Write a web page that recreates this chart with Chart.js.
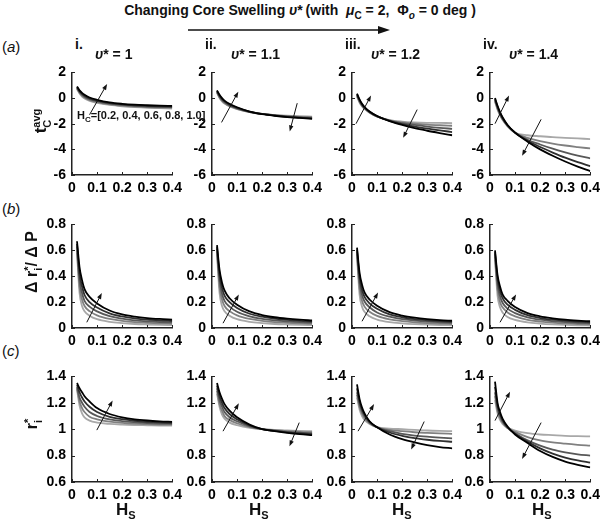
<!DOCTYPE html>
<html>
<head>
<meta charset="utf-8">
<script src="https://cdn.jsdelivr.net/npm/chart.js@4.4.0/dist/chart.umd.min.js"></script>
<style>
body { margin:0; width:600px; height:528px; background:#fff; position:relative; overflow:hidden; font-family:"Liberation Sans", Arial, sans-serif; color:#111; }
canvas { position:absolute; }
.lbl { position:absolute; font-weight:bold; white-space:nowrap; z-index:2; }
.rot { position:absolute; font-weight:bold; white-space:nowrap; transform:translate(-50%,-50%) rotate(-90deg); z-index:2; }
.stk { display:inline-block; vertical-align:middle; line-height:0.95; font-size:11px; text-align:left; }
.stk span { display:block; }
.row { position:absolute; font-size:15px; z-index:2; }
</style>
</head>
<body>
<div class="lbl" style="left:0;width:600px;top:2px;text-align:center;font-size:14px;">Changing Core Swelling <i>υ</i>*&thinsp;(with&nbsp; <i>μ</i><sub style="font-size:10px">C</sub> = 2,&nbsp; Φ<sub style="font-size:10px"><i>o</i></sub> = 0 deg )</div>
<svg style="position:absolute;left:188px;top:24px" width="204" height="12">
  <line x1="0" y1="6" x2="192" y2="6" stroke="#111" stroke-width="1.5"/>
  <polygon points="202,6 190,2 190,10" fill="#111"/>
</svg>

<div class="row" style="left:2px;top:38px;">(<i>a</i>)</div>
<div class="row" style="left:2px;top:200px;">(<i>b</i>)</div>
<div class="row" style="left:2px;top:342px;">(<i>c</i>)</div>

<div class="lbl" style="left:75px;top:36px;font-size:14px;">i.</div>
<div class="lbl" style="left:95px;top:46px;font-size:14px;"><i>υ</i>* = 1</div>
<div class="lbl" style="left:205px;top:36px;font-size:14px;">ii.</div>
<div class="lbl" style="left:231px;top:46px;font-size:14px;"><i>υ</i>* = 1.1</div>
<div class="lbl" style="left:345px;top:36px;font-size:14px;">iii.</div>
<div class="lbl" style="left:371px;top:46px;font-size:14px;"><i>υ</i>* = 1.2</div>
<div class="lbl" style="left:483px;top:36px;font-size:14px;">iv.</div>
<div class="lbl" style="left:509px;top:46px;font-size:14px;"><i>υ</i>* = 1.4</div>

<div class="lbl" style="left:77px;top:109px;font-size:11px;">H<sub style="font-size:8px">C</sub>=[0.2, 0.4, 0.6, 0.8, 1.0]</div>

<div class="rot" style="left:41px;top:121px;font-size:17px;">t<span class="stk"><span>avg</span><span>C</span></span></div>
<div class="rot" style="left:33px;top:262px;font-size:16px;">Δ r<span class="stk"><span>*</span><span>i</span></span>/ Δ P</div>
<div class="rot" style="left:33px;top:424px;font-size:16px;">r<span class="stk"><span>*</span><span>i</span></span></div>

<div class="lbl" style="left:116px;top:500px;font-size:17px;">H<sub style="font-size:11px">S</sub></div>
<div class="lbl" style="left:249px;top:500px;font-size:17px;">H<sub style="font-size:11px">S</sub></div>
<div class="lbl" style="left:392px;top:500px;font-size:17px;">H<sub style="font-size:11px">S</sub></div>
<div class="lbl" style="left:532px;top:500px;font-size:17px;">H<sub style="font-size:11px">S</sub></div>

<script>
// shell thickness H_S samples
const hs = [0.02, 0.03, 0.04, 0.05, 0.07, 0.1, 0.15, 0.2, 0.25, 0.3, 0.35, 0.4];
const hcValues = ['0.2', '0.4', '0.6', '0.8', '1.0'];
const lineColors = ['#a8a8a8', '#808080', '#585858', '#303030', '#000000'];

// row (a): t_C^avg
const tC_i = [
    [0.70, 0.35, 0.12, -0.03, -0.22, -0.38, -0.54, -0.64, -0.71, -0.76, -0.79, -0.82],
    [0.75, 0.42, 0.19, 0.04, -0.16, -0.32, -0.49, -0.59, -0.66, -0.71, -0.74, -0.76],
    [0.80, 0.48, 0.26, 0.11, -0.09, -0.26, -0.44, -0.54, -0.61, -0.66, -0.69, -0.71],
    [0.85, 0.54, 0.33, 0.18, -0.03, -0.20, -0.39, -0.49, -0.56, -0.61, -0.64, -0.66],
    [0.90, 0.60, 0.40, 0.25, 0.04, -0.14, -0.34, -0.45, -0.52, -0.56, -0.59, -0.61]
];
const tC_ii = [
    [0.40, 0.00, -0.26, -0.43, -0.66, -0.87, -1.10, -1.24, -1.32, -1.38, -1.42, -1.45],
    [0.45, 0.06, -0.20, -0.38, -0.62, -0.84, -1.09, -1.24, -1.34, -1.41, -1.46, -1.49],
    [0.50, 0.12, -0.14, -0.32, -0.57, -0.80, -1.07, -1.24, -1.35, -1.44, -1.50, -1.54],
    [0.55, 0.19, -0.07, -0.26, -0.51, -0.76, -1.06, -1.24, -1.37, -1.46, -1.53, -1.58],
    [0.60, 0.25, 0.00, -0.20, -0.45, -0.72, -1.05, -1.25, -1.38, -1.48, -1.55, -1.62]
];
const tC_iii = [
    [0.10, -0.35, -0.65, -0.85, -1.15, -1.45, -1.72, -1.84, -1.90, -1.93, -1.94, -1.95],
    [0.16, -0.29, -0.60, -0.81, -1.12, -1.44, -1.74, -1.90, -2.00, -2.07, -2.12, -2.16],
    [0.22, -0.23, -0.55, -0.77, -1.10, -1.43, -1.76, -1.96, -2.10, -2.22, -2.32, -2.40],
    [0.29, -0.16, -0.50, -0.73, -1.07, -1.41, -1.78, -2.03, -2.22, -2.38, -2.52, -2.65],
    [0.35, -0.10, -0.45, -0.70, -1.05, -1.40, -1.80, -2.10, -2.35, -2.55, -2.73, -2.90]
];
const tC_iv = [
    [-0.30, -0.90, -1.35, -1.70, -2.20, -2.70, -2.90, -2.98, -3.05, -3.10, -3.15, -3.20],
    [-0.22, -0.82, -1.29, -1.65, -2.17, -2.70, -3.10, -3.35, -3.55, -3.70, -3.82, -3.93],
    [-0.15, -0.75, -1.23, -1.60, -2.15, -2.70, -3.25, -3.62, -3.95, -4.23, -4.48, -4.70],
    [-0.07, -0.67, -1.16, -1.55, -2.12, -2.70, -3.33, -3.82, -4.25, -4.65, -5.00, -5.30],
    [0.00, -0.60, -1.10, -1.50, -2.10, -2.70, -3.40, -4.00, -4.50, -4.95, -5.35, -5.70]
];

// row (b): delta r_i* / delta P
const dr_i = [
    [0.58, 0.27, 0.17, 0.13, 0.095, 0.068, 0.048, 0.038, 0.031, 0.027, 0.024, 0.022],
    [0.60, 0.32, 0.22, 0.17, 0.13, 0.098, 0.070, 0.055, 0.045, 0.039, 0.035, 0.033],
    [0.63, 0.37, 0.27, 0.21, 0.165, 0.128, 0.091, 0.072, 0.059, 0.051, 0.046, 0.043],
    [0.65, 0.42, 0.32, 0.255, 0.20, 0.158, 0.113, 0.089, 0.074, 0.064, 0.058, 0.054],
    [0.67, 0.47, 0.37, 0.30, 0.24, 0.19, 0.135, 0.105, 0.088, 0.077, 0.070, 0.065]
];
const dr_ii = [
    [0.57, 0.27, 0.17, 0.13, 0.095, 0.068, 0.048, 0.038, 0.031, 0.027, 0.024, 0.022],
    [0.59, 0.32, 0.22, 0.17, 0.13, 0.098, 0.070, 0.055, 0.045, 0.039, 0.035, 0.032],
    [0.61, 0.37, 0.265, 0.21, 0.165, 0.125, 0.090, 0.071, 0.059, 0.051, 0.045, 0.041],
    [0.625, 0.41, 0.31, 0.25, 0.20, 0.155, 0.110, 0.087, 0.072, 0.062, 0.055, 0.050],
    [0.64, 0.45, 0.35, 0.29, 0.23, 0.18, 0.128, 0.100, 0.083, 0.072, 0.064, 0.058]
];
const dr_iii = [
    [0.55, 0.26, 0.165, 0.125, 0.09, 0.065, 0.045, 0.036, 0.030, 0.026, 0.023, 0.021],
    [0.57, 0.31, 0.21, 0.165, 0.125, 0.094, 0.067, 0.053, 0.044, 0.038, 0.034, 0.031],
    [0.59, 0.355, 0.255, 0.205, 0.16, 0.12, 0.087, 0.068, 0.057, 0.049, 0.044, 0.040],
    [0.605, 0.395, 0.295, 0.24, 0.19, 0.148, 0.105, 0.083, 0.069, 0.060, 0.053, 0.048],
    [0.62, 0.43, 0.335, 0.275, 0.22, 0.172, 0.122, 0.096, 0.080, 0.069, 0.061, 0.056]
];
const dr_iv = [
    [0.53, 0.25, 0.16, 0.12, 0.085, 0.062, 0.043, 0.034, 0.028, 0.024, 0.021, 0.019],
    [0.55, 0.30, 0.20, 0.16, 0.12, 0.09, 0.063, 0.050, 0.041, 0.035, 0.031, 0.028],
    [0.57, 0.34, 0.245, 0.195, 0.15, 0.115, 0.082, 0.064, 0.053, 0.045, 0.040, 0.036],
    [0.585, 0.38, 0.285, 0.23, 0.18, 0.14, 0.099, 0.077, 0.064, 0.055, 0.049, 0.044],
    [0.60, 0.41, 0.32, 0.26, 0.21, 0.162, 0.115, 0.090, 0.075, 0.064, 0.057, 0.052]
];

// row (c): r_i*
const ri_i = [
    [1.30, 1.18, 1.12, 1.09, 1.065, 1.05, 1.04, 1.035, 1.032, 1.03, 1.028, 1.027],
    [1.31, 1.21, 1.16, 1.13, 1.095, 1.075, 1.057, 1.048, 1.042, 1.038, 1.035, 1.034],
    [1.32, 1.24, 1.20, 1.17, 1.13, 1.10, 1.074, 1.061, 1.053, 1.047, 1.043, 1.041],
    [1.335, 1.28, 1.24, 1.21, 1.17, 1.13, 1.094, 1.076, 1.064, 1.056, 1.051, 1.048],
    [1.35, 1.31, 1.28, 1.25, 1.21, 1.16, 1.115, 1.09, 1.075, 1.066, 1.06, 1.056]
];
const ri_ii = [
    [1.27, 1.17, 1.11, 1.08, 1.05, 1.03, 1.01, 1.00, 0.995, 0.99, 0.987, 0.985],
    [1.29, 1.19, 1.14, 1.10, 1.07, 1.045, 1.015, 1.00, 0.992, 0.985, 0.98, 0.977],
    [1.31, 1.22, 1.17, 1.13, 1.09, 1.06, 1.022, 1.00, 0.989, 0.98, 0.973, 0.969],
    [1.33, 1.25, 1.20, 1.16, 1.115, 1.075, 1.028, 1.00, 0.987, 0.976, 0.968, 0.962],
    [1.35, 1.28, 1.23, 1.19, 1.14, 1.09, 1.035, 1.00, 0.985, 0.972, 0.962, 0.955]
];
const ri_iii = [
    [1.24, 1.15, 1.10, 1.07, 1.04, 1.015, 1.005, 1.0, 0.995, 0.99, 0.987, 0.985],
    [1.26, 1.17, 1.12, 1.085, 1.045, 1.015, 0.995, 0.985, 0.977, 0.972, 0.968, 0.965],
    [1.28, 1.19, 1.135, 1.10, 1.05, 1.015, 0.985, 0.965, 0.952, 0.943, 0.936, 0.93],
    [1.31, 1.21, 1.15, 1.11, 1.055, 1.015, 0.975, 0.95, 0.932, 0.92, 0.911, 0.905],
    [1.34, 1.23, 1.165, 1.12, 1.06, 1.015, 0.96, 0.925, 0.90, 0.88, 0.865, 0.855]
];
const ri_iv = [
    [1.22, 1.12, 1.07, 1.04, 1.01, 0.99, 0.97, 0.96, 0.955, 0.95, 0.947, 0.945],
    [1.25, 1.14, 1.085, 1.05, 1.01, 0.98, 0.94, 0.915, 0.90, 0.89, 0.882, 0.876],
    [1.28, 1.16, 1.10, 1.06, 1.01, 0.97, 0.915, 0.875, 0.845, 0.825, 0.81, 0.80],
    [1.32, 1.18, 1.115, 1.07, 1.015, 0.965, 0.905, 0.855, 0.815, 0.785, 0.763, 0.747],
    [1.36, 1.20, 1.13, 1.08, 1.02, 0.96, 0.895, 0.835, 0.79, 0.755, 0.73, 0.71]
];

const rowAxes = [
    { min: -6, max: 2, step: 2 },
    { min: 0, max: 0.8, step: 0.2 },
    { min: 0.6, max: 1.4, step: 0.2 }
];

// trend arrows [x1, y1, x2, y2] in data units, head at the second point
const panels = [
    { row: 0, col: 0, data: tC_i, arrows: [[0.07, -1.3, 0.14, 1.1]] },
    { row: 0, col: 1, data: tC_ii, arrows: [[0.038, -1.9, 0.105, 0.5], [0.34, -0.4, 0.31, -2.6]] },
    { row: 0, col: 2, data: tC_iii, arrows: [[0.016, -2.0, 0.076, 0.2], [0.26, -0.9, 0.204, -3.1]] },
    { row: 0, col: 3, data: tC_iv, arrows: [[0.02, -2.0, 0.076, 0.2], [0.204, -1.66, 0.128, -4.5]] },
    { row: 1, col: 0, data: dr_i, arrows: [[0.059, 0.044, 0.119, 0.27]] },
    { row: 1, col: 1, data: dr_ii, arrows: [[0.044, 0.037, 0.107, 0.259]] },
    { row: 1, col: 2, data: dr_iii, arrows: [[0.04, 0.052, 0.104, 0.274]] },
    { row: 1, col: 3, data: dr_iv, arrows: [[0.04, 0.044, 0.104, 0.259]] },
    { row: 2, col: 0, data: ri_i, arrows: [[0.099, 0.993, 0.162, 1.218]] },
    { row: 2, col: 1, data: ri_ii, arrows: [[0.044, 0.985, 0.107, 1.196], [0.348, 1.05, 0.309, 0.87]] },
    { row: 2, col: 2, data: ri_iii, arrows: [[0.024, 0.985, 0.088, 1.19], [0.288, 1.058, 0.236, 0.847]] },
    { row: 2, col: 3, data: ri_iv, arrows: [[0.02, 1.065, 0.08, 1.284], [0.204, 1.05, 0.128, 0.775]] }
];

const colLeft = [72, 212, 352, 490];
const rowTop = [68, 220, 372];
const rowH = [107, 108, 110];
const PW = 101, YW = 40, XH = 24, PADT = 10, PADR = 14;
const tickFont = { family: '"Liberation Sans", Arial, sans-serif', size: 14, weight: 'bold' };

const fmt = v => String(Math.round(v * 100) / 100);

const inTicks = {
    id: 'inTicks',
    afterDraw(chart) {
        const { ctx, chartArea: a, scales: { x, y } } = chart;
        ctx.save();
        ctx.strokeStyle = '#222';
        ctx.lineWidth = 1;
        x.ticks.forEach(t => {
            const px = Math.round(x.getPixelForValue(t.value)) + 0.5;
            ctx.beginPath(); ctx.moveTo(px, a.bottom); ctx.lineTo(px, a.bottom - 3); ctx.stroke();
        });
        y.ticks.forEach(t => {
            const py = Math.round(y.getPixelForValue(t.value)) + 0.5;
            ctx.beginPath(); ctx.moveTo(a.left, py); ctx.lineTo(a.left + 3, py); ctx.stroke();
        });
        ctx.restore();
    }
};

const arrowPlugin = {
    id: 'arrows',
    afterDatasetsDraw(chart, args, opts) {
        const { ctx, scales: { x, y } } = chart;
        ctx.save();
        ctx.strokeStyle = '#111';
        ctx.fillStyle = '#111';
        ctx.lineWidth = 1;
        (opts.list || []).forEach(([x1, y1, x2, y2]) => {
            const ax = x.getPixelForValue(x1), ay = y.getPixelForValue(y1);
            const bx = x.getPixelForValue(x2), by = y.getPixelForValue(y2);
            const ang = Math.atan2(by - ay, bx - ax);
            ctx.beginPath(); ctx.moveTo(ax, ay); ctx.lineTo(bx - 4 * Math.cos(ang), by - 4 * Math.sin(ang)); ctx.stroke();
            ctx.beginPath();
            ctx.moveTo(bx, by);
            ctx.lineTo(bx - 6 * Math.cos(ang) + 2.2 * Math.sin(ang), by - 6 * Math.sin(ang) - 2.2 * Math.cos(ang));
            ctx.lineTo(bx - 6 * Math.cos(ang) - 2.2 * Math.sin(ang), by - 6 * Math.sin(ang) + 2.2 * Math.cos(ang));
            ctx.closePath(); ctx.fill();
        });
        ctx.restore();
    }
};

panels.forEach(p => {
    const ax = rowAxes[p.row];
    const canvas = document.createElement('canvas');
    canvas.width = YW + PW + PADR;
    canvas.height = PADT + rowH[p.row] + XH;
    canvas.style.left = (colLeft[p.col] - YW) + 'px';
    canvas.style.top = (rowTop[p.row] - PADT) + 'px';
    document.body.appendChild(canvas);

    // darkest first so it ends up on top
    const datasets = p.data.map((vals, i) => ({
        label: 'H_C = ' + hcValues[i],
        data: hs.map((h, j) => ({ x: h, y: vals[j] })),
        borderColor: lineColors[i],
        borderWidth: 1.8,
        pointRadius: 0,
        fill: false,
        cubicInterpolationMode: 'monotone'
    })).reverse();

    new Chart(canvas.getContext('2d'), {
        type: 'line',
        data: { datasets },
        options: {
            responsive: false,
            animation: false,
            devicePixelRatio: 1,
            layout: { padding: { left: 0, right: PADR, top: PADT, bottom: 0 } },
            plugins: {
                legend: { display: false },
                tooltip: { enabled: false },
                arrows: { list: p.arrows }
            },
            scales: {
                x: {
                    type: 'linear', min: 0, max: 0.4,
                    ticks: { stepSize: 0.1, padding: 5, color: '#000', font: tickFont, callback: fmt, maxRotation: 0, autoSkip: false },
                    grid: { drawOnChartArea: false, drawTicks: false },
                    border: { color: '#222', width: 1.5 },
                    afterFit: s => { s.height = XH; }
                },
                y: {
                    min: ax.min, max: ax.max,
                    ticks: { stepSize: ax.step, padding: 6, color: '#000', font: tickFont, callback: fmt },
                    grid: { drawOnChartArea: false, drawTicks: false },
                    border: { color: '#222', width: 1.5 },
                    afterFit: s => { s.width = YW; }
                }
            }
        },
        plugins: [inTicks, arrowPlugin]
    });
});
</script>
</body>
</html>
